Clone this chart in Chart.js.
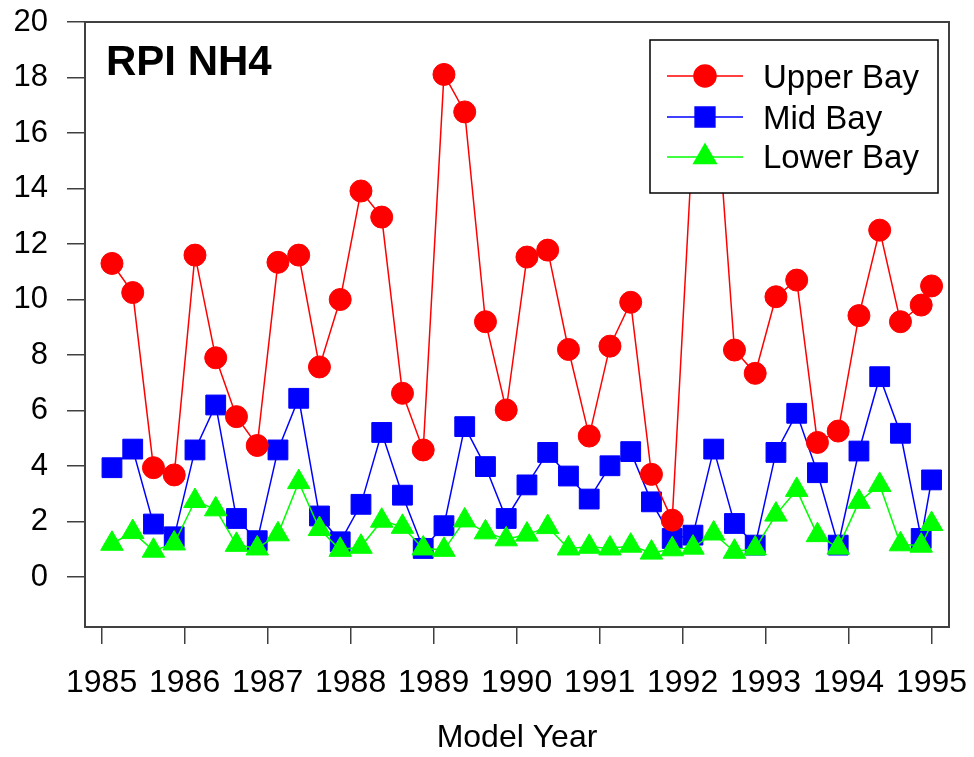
<!DOCTYPE html>
<html>
<head>
<meta charset="utf-8">
<script src="https://cdn.jsdelivr.net/npm/chart.js@4.4.1/dist/chart.umd.min.js"></script>
<style>
  body { margin: 0; background: #fff; }
  canvas { display: block; }
</style>
</head>
<body>
<canvas id="nh4Chart" width="974" height="757"></canvas>
<script>
// quarterly model output, decimal years
const modelYear = [
    1985.125, 1985.375, 1985.625, 1985.875,
    1986.125, 1986.375, 1986.625, 1986.875,
    1987.125, 1987.375, 1987.625, 1987.875,
    1988.125, 1988.375, 1988.625, 1988.875,
    1989.125, 1989.375, 1989.625, 1989.875,
    1990.125, 1990.375, 1990.625, 1990.875,
    1991.125, 1991.375, 1991.625, 1991.875,
    1992.125, 1992.375, 1992.625, 1992.875,
    1993.125, 1993.375, 1993.625, 1993.875,
    1994.125, 1994.375, 1994.625, 1994.875,
    1995.0
];
const upperBay = [
    11.3, 10.25, 3.94, 3.68,
    11.6, 7.9, 5.78, 4.74,
    11.34, 11.6, 7.57, 10.0,
    13.91, 12.97, 6.62, 4.58,
    18.11, 16.76, 9.2, 6.02,
    11.53, 11.78, 8.2, 5.08,
    8.32, 9.9, 3.7, 2.05,
    15.9, 18.5, 8.18, 7.34,
    10.1, 10.7, 4.85, 5.26,
    9.42, 12.5, 9.2, 9.8,
    10.49
];
const midBay = [
    3.94, 4.61, 1.91, 1.45,
    4.58, 6.2, 2.11, 1.31,
    4.58, 6.44, 2.2, 1.27,
    2.62, 5.21, 2.95, 1.03,
    1.85, 5.42, 3.98, 2.11,
    3.32, 4.49, 3.64, 2.81,
    4.01, 4.52, 2.71, 1.39,
    1.51, 4.61, 1.93, 1.15,
    4.49, 5.9, 3.76, 1.15,
    4.54, 7.22, 5.18, 1.39,
    3.5
];
const lowerBay = [
    1.2, 1.62, 0.95, 1.21,
    2.74, 2.44, 1.16, 1.03,
    1.54, 3.42, 1.73, 0.98,
    1.09, 2.03, 1.81, 1.03,
    0.98, 2.04, 1.61, 1.36,
    1.53, 1.8, 1.03, 1.09,
    1.03, 1.13, 0.88, 1.0,
    1.06, 1.57, 0.91, 1.03,
    2.25, 3.14, 1.51, 1.06,
    2.71, 3.32, 1.18, 1.13,
    1.91
];
const yearTicks = [1985, 1986, 1987, 1988, 1989, 1990, 1991, 1992, 1993, 1994, 1995];
const valueTicks = [0, 2, 4, 6, 8, 10, 12, 14, 16, 18, 20];

const FONT = 'Arial, "Liberation Sans", Helvetica, sans-serif';

function pts(ys) {
    return ys.map((y, i) => ({ x: modelYear[i], y: y }));
}

// no extra room for half labels, chart area is fixed by layout padding
function noScalePadding(s) {
    s.paddingTop = 0;
    s.paddingBottom = 0;
    s.paddingLeft = 0;
    s.paddingRight = 0;
}

// frame, title and in-plot legend
const decorations = {
    id: 'decorations',
    afterDatasetsDraw(chart) {
        const ctx = chart.ctx;
        const a = chart.chartArea;
        ctx.save();

        ctx.strokeStyle = '#404040';
        ctx.lineWidth = 2;
        ctx.strokeRect(a.left, a.top, a.right - a.left, a.bottom - a.top);

        ctx.fillStyle = '#000';
        ctx.font = 'bold 42px ' + FONT;
        ctx.textAlign = 'left';
        ctx.textBaseline = 'alphabetic';
        ctx.fillText('RPI NH4', 106, 75);

        // legend box
        ctx.fillStyle = '#fff';
        ctx.fillRect(650, 40, 288, 153);
        ctx.strokeStyle = '#000';
        ctx.lineWidth = 1.5;
        ctx.strokeRect(650, 40, 288, 153);

        const rows = [76, 117, 157];
        const bases = [88, 129, 168];
        chart.data.datasets.forEach((ds, i) => {
            const y = rows[i];
            ctx.strokeStyle = ds.borderColor;
            ctx.lineWidth = 1.5;
            ctx.beginPath();
            ctx.moveTo(667, y);
            ctx.lineTo(743, y);
            ctx.stroke();
            ctx.fillStyle = ds.pointBackgroundColor;
            ctx.strokeStyle = ds.pointBorderColor;
            Chart.helpers.drawPoint(ctx, {
                pointStyle: ds.pointStyle,
                radius: ds.pointRadius,
                rotation: 0,
                borderWidth: 1
            }, 705, y);
            ctx.fillStyle = '#000';
            ctx.font = '33px ' + FONT;
            ctx.textBaseline = 'alphabetic';
            ctx.fillText(ds.label, 763, bases[i]);
        });
        ctx.restore();
    }
};

document.addEventListener('DOMContentLoaded', function () {
    const ctx = document.getElementById('nh4Chart').getContext('2d');

    new Chart(ctx, {
        type: 'line',
        data: {
            datasets: [{
                label: 'Upper Bay',
                data: pts(upperBay),
                borderColor: '#ff0000',
                borderWidth: 1.5,
                pointStyle: 'circle',
                pointRadius: 11,
                pointBackgroundColor: '#ff0000',
                pointBorderColor: '#ff0000',
                pointBorderWidth: 1,
                order: 0
            }, {
                label: 'Mid Bay',
                data: pts(midBay),
                borderColor: '#0000ff',
                borderWidth: 1.5,
                pointStyle: 'rect',
                pointRadius: 14,
                pointBackgroundColor: '#0000ff',
                pointBorderColor: '#0000ff',
                pointBorderWidth: 1,
                order: 2
            }, {
                label: 'Lower Bay',
                data: pts(lowerBay),
                borderColor: '#00ff00',
                borderWidth: 1.5,
                pointStyle: 'triangle',
                pointRadius: 13,
                pointBackgroundColor: '#00ff00',
                pointBorderColor: '#00ff00',
                pointBorderWidth: 1,
                order: 1
            }]
        },
        options: {
            responsive: false,
            animation: false,
            events: [],
            layout: {
                padding: { top: 22, right: 25, left: 0, bottom: 0 }
            },
            plugins: {
                legend: { display: false },
                tooltip: { enabled: false }
            },
            scales: {
                x: {
                    type: 'linear',
                    min: 1984.8,
                    max: 1995.21,
                    afterBuildTicks: s => { s.ticks = yearTicks.map(v => ({ value: v })); },
                    afterFit: s => { s.height = 130; noScalePadding(s); },
                    grid: {
                        drawOnChartArea: false,
                        color: '#404040',
                        lineWidth: 1.5,
                        tickLength: 17
                    },
                    border: { display: false },
                    ticks: {
                        color: '#000',
                        font: { family: FONT, size: 32 },
                        padding: 20,
                        maxRotation: 0,
                        autoSkip: false,
                        callback: v => String(v)
                    },
                    title: {
                        display: true,
                        text: 'Model Year',
                        color: '#000',
                        font: { family: FONT, size: 32 },
                        padding: { top: 0, bottom: 0 }
                    }
                },
                y: {
                    min: -1.8,
                    max: 20,
                    afterBuildTicks: s => { s.ticks = valueTicks.map(v => ({ value: v })); },
                    afterFit: s => { s.width = 85; noScalePadding(s); },
                    grid: {
                        drawOnChartArea: false,
                        color: '#404040',
                        lineWidth: 1.5,
                        tickLength: 18
                    },
                    border: { display: false },
                    ticks: {
                        color: '#000',
                        font: { family: FONT, size: 31 },
                        padding: 19
                    }
                }
            }
        },
        plugins: [decorations]
    });
});
</script>
</body>
</html>
